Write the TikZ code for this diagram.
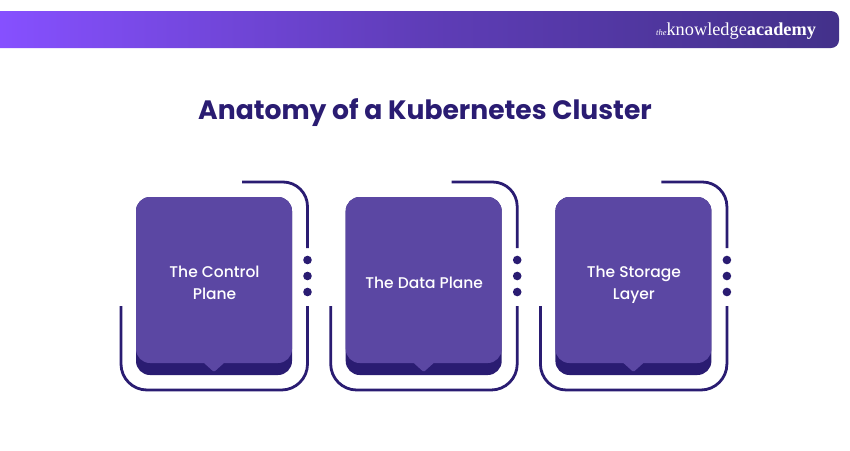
\documentclass[tikz,border=0pt]{standalone}
\usepackage{fontspec}
\setmainfont{Poppins}
\newfontfamily\labelfont{Poppins Medium}
\newfontfamily\logofont{Liberation Serif}
\definecolor{ink}{HTML}{2A1C72}
\definecolor{cardfront}{HTML}{5B47A3}
\definecolor{bannerL}{HTML}{8650FF}
\definecolor{bannerM}{HTML}{5F3DB8}
\definecolor{bannerR}{HTML}{43318A}
\tikzset{
  cardbase/.style={fill=ink,draw=none},
  cardtop/.style={fill=cardfront,draw=none},
  frameline/.style={draw=ink,line width=2.8pt},
  dotmark/.style={circle,fill=ink,draw=none,minimum size=8.6pt,inner sep=0pt},
  cardlabel/.style={text=white,font=\labelfont\fontsize{15.5}{22}\selectfont,align=center,inner sep=0pt}
}
\newcommand{\kcard}[3]{%
  \begin{scope}[xshift=#1pt]
    \path[cardbase,rounded corners=14pt] (136,197) rectangle (292,375);
    \path[cardtop] [rounded corners=14pt] (136,280) -- (136,197) -- (292,197) -- (292,363)
       [sharp corners] -- (224,363)
       [rounded corners=1.5pt] -- (214,372)
       [sharp corners] -- (204,363)
       [rounded corners=14pt] -- (136,363) -- cycle;
    \draw[frameline,rounded corners=24.5pt] (242,182) -- (307.5,182) -- (307.5,248);
    \draw[frameline,rounded corners=26pt] (307.5,306) -- (307.5,390) -- (121,390) -- (121,306);
    \node[dotmark] (#3a) at (307.5,260) {};
    \node[dotmark] (#3b) at (307.5,276) {};
    \node[dotmark] (#3c) at (307.5,292) {};
    \node[cardlabel] (#3t) at (214.5,284.5) {#2};
  \end{scope}}
\begin{document}
\begin{tikzpicture}[x=1pt,y=-1pt]
\useasboundingbox (0,0) rectangle (850,450);
\fill[white] (0,0) rectangle (850,450);
\begin{scope}
  \clip[rounded corners=8pt] (-20,11) rectangle (839,48);
  \shade[left color=bannerL,right color=bannerM] (0,11) rectangle (420,48);
  \shade[left color=bannerM,right color=bannerR] (420,11) rectangle (839,48);
\end{scope}
\node[text=white,inner sep=0pt,anchor=base west] (logo) at (656,35)
  {\logofont\fontsize{8.5}{10}\selectfont\itshape the\fontsize{18.3}{20}\selectfont\upshape knowledge\bfseries academy};
\node[text=ink,inner sep=0pt] (title) at (425,112.5)
  {\fontsize{26.6}{32}\selectfont\bfseries Anatomy of a Kubernetes Cluster};
\kcard{0}{\strut The Control\\\strut Plane}{one}
\kcard{209.7}{\strut The Data Plane}{two}
\kcard{419.4}{\strut The Storage\\\strut Layer}{three}
\end{tikzpicture}
\end{document}
